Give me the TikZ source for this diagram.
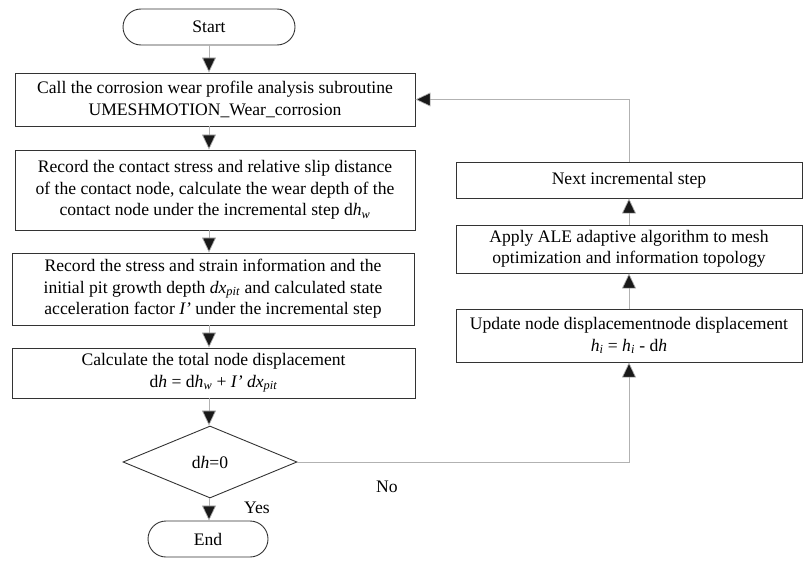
\documentclass[tikz,border=0pt]{standalone}
\usepackage{fontspec}
\setmainfont{Liberation Serif}
\usetikzlibrary{arrows.meta,shapes.geometric}
\tikzset{
  box/.style={draw=black!80, line width=0.9pt, rectangle, align=center, inner sep=0pt,
    font=\fontsize{17.6}{21.5}\selectfont},
  term/.style={box, rounded corners=18pt, minimum height=36pt},
  decision/.style={draw=black!80, line width=0.9pt, diamond, inner sep=0pt,
    minimum width=174pt, minimum height=72pt, font=\fontsize{17.6}{21.5}\selectfont},
  link/.style={draw=black!30, line width=0.7pt,
    -{Triangle[width=14pt,length=15pt,fill=black!90]}},
  lab/.style={font=\fontsize{17.6}{20}\selectfont, inner sep=0pt}
}
\newcommand{\ital}[1]{\textit{#1}}
\begin{document}
\begin{tikzpicture}[x=1pt,y=-1pt]
\useasboundingbox (0,0) rectangle (803,562);

% left column: main analysis loop
\node[term, minimum width=172pt] (start) at (209,27) {Start};
\node[box, minimum width=400pt, minimum height=53pt] (call) at (215,99.5)
  {Call the corrosion wear profile analysis subroutine\\UMESHMOTION\_Wear\_corrosion};
\node[box, minimum width=400pt, minimum height=80pt] (rec1) at (215,190)
  {Record the contact stress and relative slip distance\\
   of the contact node, calculate the wear depth of the\\
   contact node under the incremental step d\ital{h}\textsubscript{\ital{w}}};
\node[box, minimum width=402pt, minimum height=72pt] (rec2) at (213,289)
  {Record the stress and strain information and the\\
   initial pit growth depth \ital{dx}\textsubscript{\ital{pit}} and calculated state\\
   acceleration factor \ital{I’} under the incremental step};
\node[box, minimum width=403pt, minimum height=50pt] (calc) at (213.5,373)
  {Calculate the total node displacement\\
   d\ital{h} = d\ital{h}\textsubscript{\ital{w}} + \ital{I’} \ital{dx}\textsubscript{\ital{pit}}};
\node[decision] (dec) at (210,462) {d\ital{h}=0};
\node[term, minimum width=120pt] (stop) at (208,539) {End};

% right column: mesh update branch
\node[box, minimum width=346pt, minimum height=36pt] (next) at (629,180) {Next incremental step};
\node[box, minimum width=346pt, minimum height=48pt] (ale) at (629,249)
  {Apply ALE adaptive algorithm to mesh\\optimization and information topology};
\node[box, minimum width=346pt, minimum height=53pt] (upd) at (629,335.5)
  {Update node displacementnode displacement\\
   \ital{h}\textsubscript{\ital{i}} = \ital{h}\textsubscript{\ital{i}} - d\ital{h}};

% connectors
\draw[link] (start.south) -- (call.north -| start.south);
\draw[link] (call.south -| start.south) -- (rec1.north -| start.south);
\draw[link] (rec1.south -| start.south) -- (rec2.north -| start.south);
\draw[link] (rec2.south -| start.south) -- (calc.north -| start.south);
\draw[link] (calc.south -| start.south) -- (dec.north -| start.south);
\draw[link] (dec.south -| start.south) -- (stop.north -| start.south);
\draw[link] (dec.east) -| (upd.south);
\draw[link] (upd.north) -- (ale.south);
\draw[link] (ale.north) -- (next.south);
\draw[link] (next.north) |- (call.east);

% branch labels
\node[lab] (yes) at (257,508) {Yes};
\node[lab] (no) at (387,487) {No};
\end{tikzpicture}
\end{document}
